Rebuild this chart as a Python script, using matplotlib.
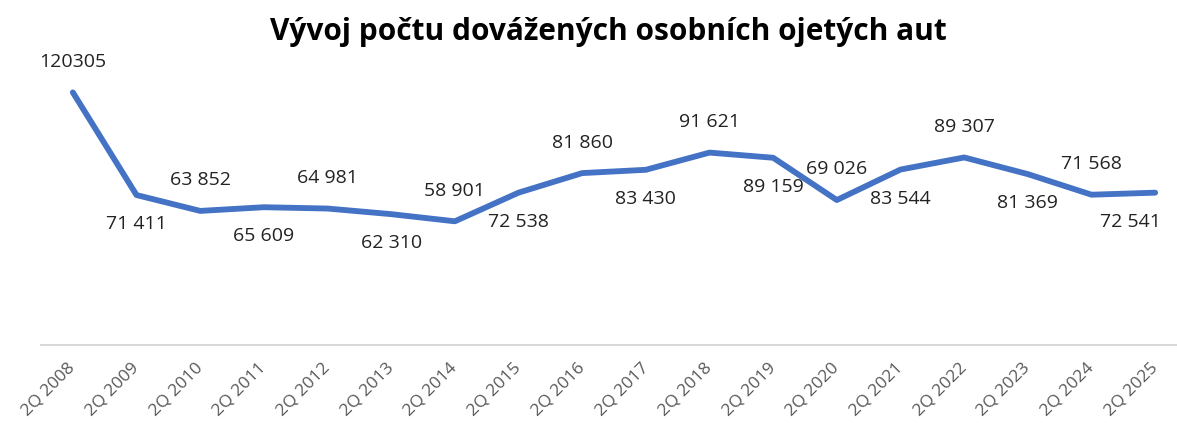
"""
Vyvoj poctu dovazenych osobnich ojetych aut - line chart
"""

import matplotlib
matplotlib.use('Agg')
import matplotlib.pyplot as plt


quarters = ['2Q 2008', '2Q 2009', '2Q 2010', '2Q 2011', '2Q 2012', '2Q 2013',
            '2Q 2014', '2Q 2015', '2Q 2016', '2Q 2017', '2Q 2018', '2Q 2019',
            '2Q 2020', '2Q 2021', '2Q 2022', '2Q 2023', '2Q 2024', '2Q 2025']
imports = [120305, 71411, 63852, 65609, 64981, 62310, 58901, 72538, 81860,
           83430, 91621, 89159, 69026, 83544, 89307, 81369, 71568, 72541]
labels = ['120305', '71 411', '63 852', '65 609', '64 981', '62 310',
          '58 901', '72 538', '81 860', '83 430', '91 621', '89 159',
          '69 026', '83 544', '89 307', '81 369', '71 568', '72 541']

plt.rcParams['font.family'] = ['Open Sans', 'DejaVu Sans']

fig = plt.figure(figsize=(11.77, 4.23), dpi=100, facecolor='white')
axes = fig.add_axes([41 / 1177, 78 / 423, 1146 / 1177, 294 / 423])

x = list(range(len(imports)))
axes.plot(x, imports, color='#4472C4', linewidth=4.2,
          solid_joinstyle='round', solid_capstyle='round')

last = len(imports) - 1
for i, (val, txt) in enumerate(zip(imports, labels)):
    # labels alternate above / below the line
    dy = 22 if i % 2 == 0 else -21
    dx = -18 if i == last else 0   # keep the last label inside the chart
    axes.annotate(txt, (i, val), xytext=(dx, dy), textcoords='offset points',
                  ha='center', va='center', fontsize=14, color='#222222')

axes.set_xlim(-0.5, len(imports) - 0.5)
axes.set_ylim(0, 140000)
axes.set_xticks(x)
axes.set_xticklabels(quarters, rotation=45, ha='right', va='center',
                     rotation_mode='anchor', fontsize=12.5, color='#595959')
axes.tick_params(axis='x', length=0, pad=15)
axes.set_yticks([])

for side in ['top', 'right', 'left']:
    axes.spines[side].set_visible(False)
axes.spines['bottom'].set_color('#d9d9d9')
axes.spines['bottom'].set_linewidth(1.5)

fig.text(608 / 1177, 1 - 40 / 423, 'Vývoj počtu dovážených osobních ojetých aut',
         ha='center', va='baseline', fontsize=21.5, fontweight='bold',
         color='black')

fig.savefig('out.png', dpi=100, facecolor='white')
